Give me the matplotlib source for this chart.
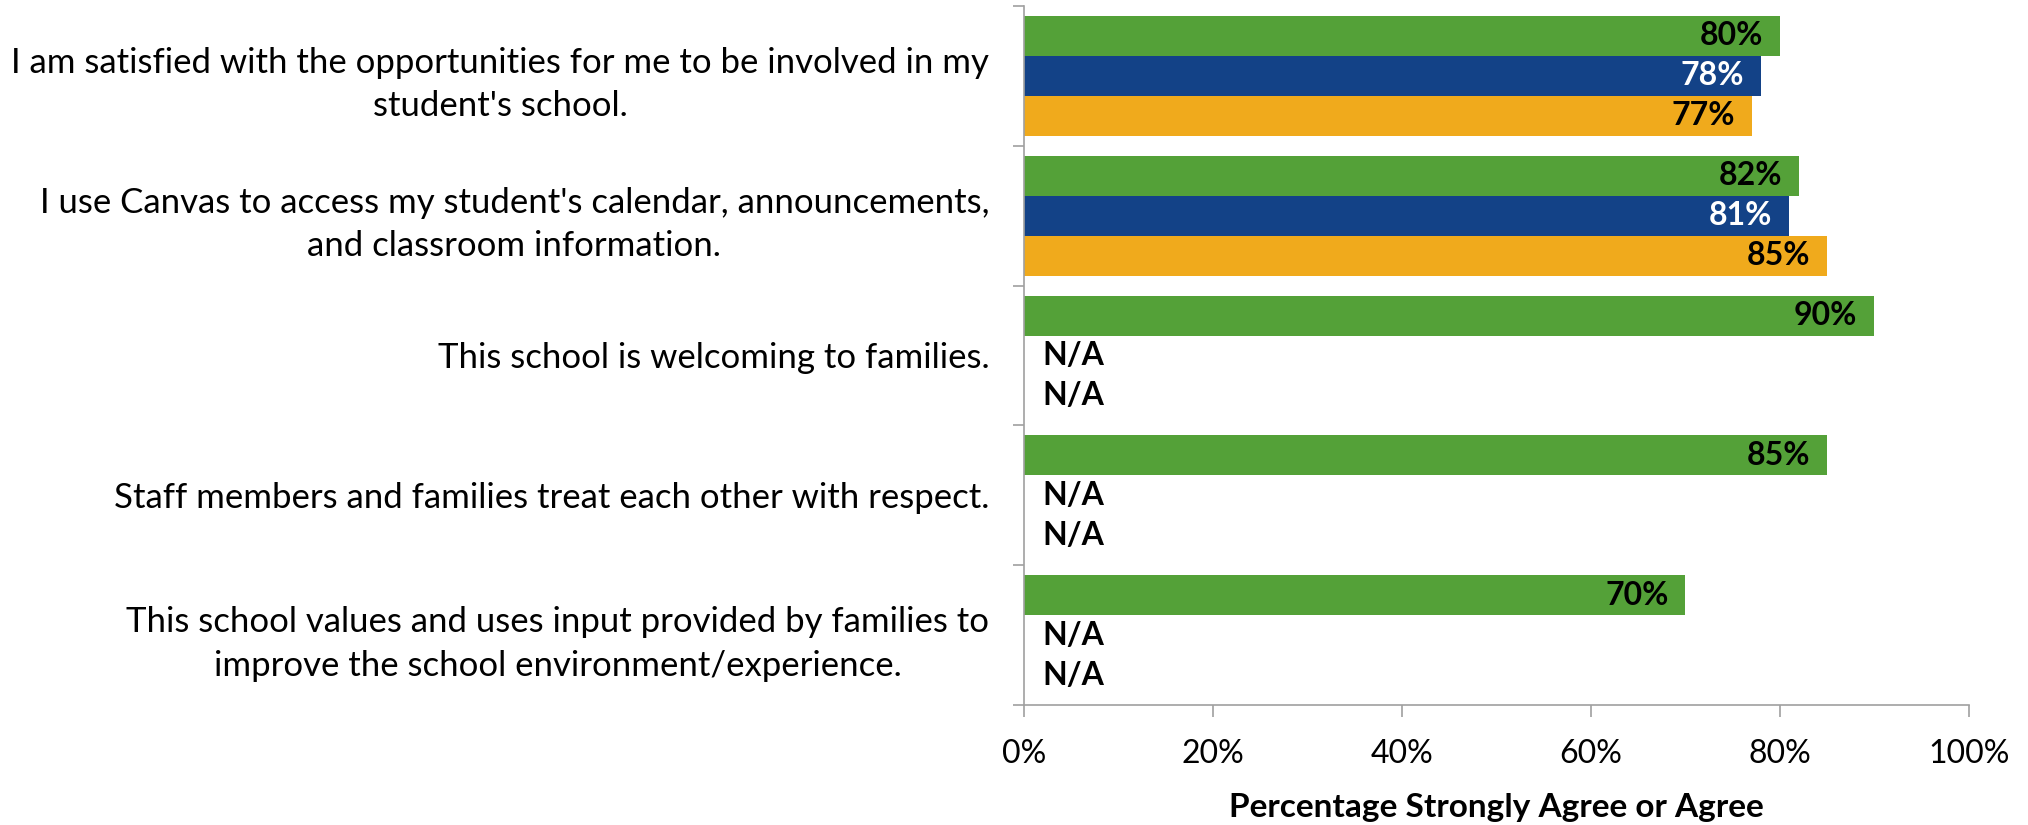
import matplotlib.pyplot as plt
import numpy as np

plt.rcParams["font.family"] = ["Lato", "DejaVu Sans"]

# survey items (top to bottom)
items = [
    "I am satisfied with the opportunities for me to be involved in my\nstudent's school.",
    "I use Canvas to access my student's calendar, announcements,\nand classroom information.",
    "This school is welcoming to families.",
    "Staff members and families treat each other with respect.",
    "This school values and uses input provided by families to\nimprove the school environment/experience.",
]

# percent strongly agree / agree; None = item not asked that year
green_vals = [80, 82, 90, 85, 70]
blue_vals = [78, 81, None, None, None]
orange_vals = [77, 85, None, None, None]

series = [
    (green_vals, "#54A138", "black"),
    (blue_vals, "#134287", "white"),
    (orange_vals, "#F0AA1C", "black"),
]

fig = plt.figure(figsize=(20.28, 8.25), dpi=100)
ax = fig.add_axes([0.5049, 0.14545, 0.466, 0.8473])

y = np.arange(len(items))
bh = 0.286
offsets = [-bh, 0, bh]

for (vals, color, txt_color), off in zip(series, offsets):
    for i, v in enumerate(vals):
        yy = y[i] + off
        if v is None:
            ax.text(1.9, yy, "N/A", ha="left", va="center",
                    fontsize=23, fontweight="bold", color="black")
            continue
        ax.barh(yy, v, height=bh, color=color, edgecolor="none")
        ax.text(v - 1.8, yy, f"{v}%", ha="right", va="center",
                fontsize=23, fontweight="bold", color=txt_color)

ax.set_xlim(0, 100)
ax.set_ylim(len(items) - 0.5, -0.5)
ax.set_xticks(np.arange(0, 101, 20))
ax.set_xticklabels([f"{t}%" for t in range(0, 101, 20)], fontsize=23)
ax.set_xlabel("Percentage Strongly Agree or Agree", fontsize=24,
              fontweight="bold", labelpad=17)

# category labels centred on groups, ticks on group boundaries
ax.set_yticks(y)
ax.set_yticklabels(items, fontsize=25, multialignment="center", linespacing=1.44)
ax.tick_params(axis="y", length=0, pad=25)
ax.set_yticks(np.arange(-0.5, len(items)), minor=True)
ax.tick_params(axis="y", which="minor", length=8, color="#A0A0A0", width=1.2)
ax.tick_params(axis="x", length=8.5, color="#A0A0A0", width=1.2, pad=16)

for s in ["top", "right"]:
    ax.spines[s].set_visible(False)
for s in ["left", "bottom"]:
    ax.spines[s].set_color("#A0A0A0")
    ax.spines[s].set_linewidth(1.2)

fig.savefig("out.png", dpi=100, facecolor="white")
